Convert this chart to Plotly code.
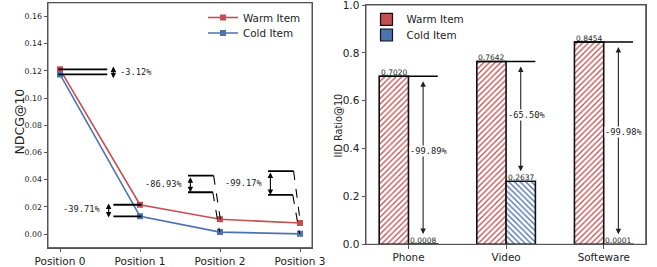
import plotly.graph_objects as go

# ---------------- data ----------------
positions = ["Position 0", "Position 1", "Position 2", "Position 3"]
ndcg_warm = [0.1211, 0.0215, 0.0108, 0.0081]
ndcg_cold = [0.1173, 0.0130, 0.0014, 0.0001]
ndcg_drop_labels = ["-3.12%", "-39.71%", "-86.93%", "-99.17%"]

domains = ["Phone", "Video", "Softeware"]
iid_warm = [0.7020, 0.7642, 0.8454]
iid_cold = [0.0008, 0.2637, 0.0001]
iid_drop_labels = ["-99.89%", "-65.50%", "-99.98%"]

WARM = "#c44e52"
COLD = "#4c72b0"
FONT = "DejaVu Sans"
MONO = "DejaVu Sans Mono"
BAR_W = 0.3

fig = go.Figure()

# ---------------- left: line chart ----------------
xs = list(range(len(positions)))
fig.add_trace(go.Scatter(x=xs, y=ndcg_warm, mode="lines+markers", name="Warm Item",
                         line=dict(color=WARM, width=1.6),
                         marker=dict(symbol="square", size=6, color=WARM),
                         xaxis="x", yaxis="y", legend="legend"))
fig.add_trace(go.Scatter(x=xs, y=ndcg_cold, mode="lines+markers", name="Cold Item",
                         line=dict(color=COLD, width=1.6),
                         marker=dict(symbol="square", size=6, color=COLD),
                         xaxis="x", yaxis="y", legend="legend3"))

shapes = []
annotations = []

def hline(x0, x1, y, xref="x", yref="y", width=1.8, dash="solid"):
    shapes.append(dict(type="line", x0=x0, x1=x1, y0=y, y1=y, xref=xref, yref=yref,
                       line=dict(color="black", width=width, dash=dash)))

def seg(x0, y0, x1, y1, xref="x", yref="y", width=1.1, dash="dash"):
    shapes.append(dict(type="line", x0=x0, x1=x1, y0=y0, y1=y1, xref=xref, yref=yref,
                       line=dict(color="black", width=width, dash=dash)))

def darrow(x, ytop, ybot, xref="x", yref="y", color="black", standoff=0, startstandoff=0):
    annotations.append(dict(x=x, y=ybot, ax=x, ay=ytop, xref=xref, yref=yref,
                            axref=xref, ayref=yref, text="", showarrow=True,
                            arrowhead=2, startarrowhead=2, arrowside="end+start",
                            arrowsize=1.0, startarrowsize=1.0, arrowwidth=1.1,
                            arrowcolor=color, standoff=standoff, startstandoff=startstandoff))

def label(x, y, text, xanchor, xref="x", yref="y", size=8.7, bg=None, xshift=0):
    a = dict(x=x, y=y, xref=xref, yref=yref, text=text, showarrow=False,
             xanchor=xanchor, yanchor="middle", xshift=xshift,
             font=dict(family=MONO, size=size, color="#222"))
    if bg:
        a["bgcolor"] = bg
        a["borderpad"] = 0
    annotations.append(a)

# Position 0 : brackets to the right
w, c = ndcg_warm[0], ndcg_cold[0]
hline(-0.02, 0.59, w)
hline(-0.02, 0.59, c)
darrow(0.667, w + 0.0032, c - 0.0027)
label(0.72, (w + c) / 2, ndcg_drop_labels[0], "left")

# Position 1 : brackets to the left
w, c = ndcg_warm[1], ndcg_cold[1]
hline(0.667, 1.02, w)
hline(0.667, 1.02, c)
darrow(0.608, w + 0.002, c - 0.0008)
label(0.52, (w + c) / 2 + 0.0008, ndcg_drop_labels[1], "right")

# Position 2 and 3 : raised brackets with dashed leaders
for i, up_off, lo_off in [(2, 0.0321, 0.0293), (3, 0.0382, 0.0286)]:
    w, c = ndcg_warm[i], ndcg_cold[i]
    top, bot = w + up_off, c + lo_off
    x0 = i - 0.40
    hline(x0, i - 0.08, top)
    hline(x0, i - 0.09, bot)
    seg(i - 0.08, top, i + 0.005, w)
    seg(i - 0.09, bot, i - 0.005, c)
    darrow(x0 + 0.03, top, bot)
    label(x0 - 0.045, (top + bot) / 2, ndcg_drop_labels[i], "right")

# ---------------- right: bar chart ----------------
fig.add_trace(go.Bar(x=domains, y=iid_warm, name="Warm Item", showlegend=False,
                     width=BAR_W, offset=-BAR_W,
                     marker=dict(color="white", line=dict(color="#111", width=1.6),
                                 pattern=dict(shape="/", fgcolor=WARM, bgcolor="white",
                                              size=4, solidity=0.33)),
                     xaxis="x2", yaxis="y2"))
fig.add_trace(go.Bar(x=domains, y=iid_cold, name="Cold Item", showlegend=False,
                     width=BAR_W, offset=0,
                     marker=dict(color="white", line=dict(color="#111", width=1.6),
                                 pattern=dict(shape="\\", fgcolor=COLD, bgcolor="white",
                                              size=4, solidity=0.33)),
                     xaxis="x2", yaxis="y2"))
# legend proxies (solid patches)
fig.add_trace(go.Bar(x=[None], y=[None], name="Warm Item", legend="legend2",
                     marker=dict(color=WARM, line=dict(color="#111", width=1.2)),
                     xaxis="x2", yaxis="y2"))
fig.add_trace(go.Bar(x=[None], y=[None], name="Cold Item", legend="legend4",
                     marker=dict(color=COLD, line=dict(color="#111", width=1.2)),
                     xaxis="x2", yaxis="y2"))

label_y = [0.391, 0.540, 0.471]
for i, (w, c) in enumerate(zip(iid_warm, iid_cold)):
    hline(i - BAR_W, i + BAR_W, w, xref="x2", yref="y2", width=1.6)
    darrow(i + BAR_W / 2, w, c, xref="x2", yref="y2", color="#222",
           standoff=10, startstandoff=3.5)
    label(i + BAR_W / 2, label_y[i], iid_drop_labels[i], "center", xref="x2", yref="y2",
          bg="white", xshift=5.6)
    for xv, v in [(i - BAR_W / 2, w), (i + BAR_W / 2, c)]:
        annotations.append(dict(x=xv, y=v, xref="x2", yref="y2", text=f"{v:.4f}",
                                showarrow=False, xanchor="center", yanchor="bottom",
                                yshift=-3,
                                font=dict(family=FONT, size=7.5, color="#222")))

# frames
for xr, yr in [("x domain", "y domain"), ("x2 domain", "y2 domain")]:
    shapes.append(dict(type="rect", xref=xr, yref=yr, x0=0, x1=1, y0=0, y1=1,
                       line=dict(color="#555", width=1), layer="above"))

# axis titles
annotations.append(dict(x=18.5 / 657, y=1 - 122 / 267, xref="paper", yref="paper",
                        xanchor="center", yanchor="middle",
                        text="NDCG@10", textangle=-90, showarrow=False,
                        font=dict(family=FONT, size=12.5, color="#222")))
annotations.append(dict(x=337.5 / 657, y=1 - 126 / 267, xref="paper", yref="paper",
                        xanchor="center", yanchor="middle",
                        text="IID Ratio@10", textangle=-90, showarrow=False,
                        font=dict(family=FONT, size=9.8, color="#222")))

axis_common = dict(showgrid=False, zeroline=False, showline=True, mirror=True,
                   linecolor="#555", linewidth=1, ticks="outside", ticklen=3.5,
                   tickcolor="#555", tickwidth=1, automargin=False,
                   ticklabeloverflow="allow")

def leg(x_px, top_px):
    return dict(x=x_px / 657, y=1 - top_px / 267, xanchor="left", yanchor="top",
                bgcolor="rgba(255,255,255,0)", font=dict(size=10.4, family=FONT),
                itemwidth=30, tracegroupgap=0, borderwidth=0)

fig.update_layout(
    template="none",
    width=657, height=267,
    margin=dict(l=0, r=0, t=0, b=0),
    paper_bgcolor="white", plot_bgcolor="white",
    barmode="overlay",
    shapes=shapes, annotations=annotations,
    font=dict(family=FONT, color="#222"),
    xaxis=dict(domain=[48 / 657, 312 / 657], range=[-0.15, 3.15], tickvals=xs,
               ticktext=positions, tickfont=dict(size=10.5), anchor="y", **axis_common),
    yaxis=dict(domain=[1 - 247.6 / 267, 1 - 2.8 / 267], range=[-0.01, 0.17],
               tickvals=[0, 0.02, 0.04, 0.06, 0.08, 0.10, 0.12, 0.14, 0.16],
               tickformat=".2f", tickfont=dict(size=7.8), anchor="x", **axis_common),
    xaxis2=dict(domain=[366 / 657, 645.7 / 657], range=[-0.435, 2.43],
                tickfont=dict(size=10.4), anchor="y2", **axis_common),
    yaxis2=dict(domain=[1 - 244.3 / 267, 1 - 5 / 267], range=[0, 1.0],
                tickvals=[0, 0.2, 0.4, 0.6, 0.8, 1.0], tickformat=".1f",
                tickfont=dict(size=10.5), anchor="x2", **axis_common),
    legend=leg(203, 3),
    legend3=leg(203, 18.5),
    legend2=leg(366.5, 4.8),
    legend4=leg(366.5, 20.5),
)

fig.write_html("out.html", config={"displayModeBar": False},
               post_script="document.body.style.margin='0';document.body.style.padding='0';")
